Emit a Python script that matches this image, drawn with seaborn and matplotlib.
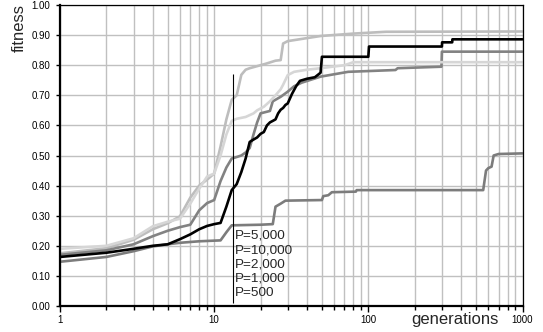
import pandas as pd
import matplotlib
matplotlib.use("Agg")
import matplotlib.pyplot as plt
import matplotlib.ticker as mticker
import seaborn as sns

# Data (generation, best fitness)
gen_5000 = [1, 2, 3, 4, 5, 6, 7, 8, 9, 10, 11, 12, 13, 14, 15, 16, 17, 18, 19, 20,
            21, 22, 23, 24, 25, 26, 27, 28, 29, 30, 32, 34, 36, 40, 45, 49, 50,
            100, 101, 300, 301, 350, 351, 1000]
fit_5000 = [0.163, 0.177, 0.190, 0.200, 0.205, 0.222, 0.238, 0.255, 0.266, 0.272,
            0.276, 0.330, 0.385, 0.405, 0.445, 0.490, 0.545, 0.553, 0.560, 0.572,
            0.578, 0.600, 0.610, 0.615, 0.620, 0.640, 0.652, 0.658, 0.668, 0.673,
            0.705, 0.730, 0.748, 0.755, 0.760, 0.775, 0.828,
            0.828, 0.862, 0.862, 0.876, 0.876, 0.886, 0.886]

gen_10000 = [1, 2, 3, 4, 5, 6, 7, 8, 9, 10, 11, 12, 13, 14, 15, 16, 17, 20, 22,
             25, 27, 28, 30, 40, 49, 80, 130, 1000]
fit_10000 = [0.175, 0.192, 0.220, 0.255, 0.275, 0.298, 0.360, 0.400, 0.420, 0.440,
             0.530, 0.620, 0.685, 0.700, 0.768, 0.785, 0.790, 0.800, 0.806,
             0.815, 0.817, 0.872, 0.880, 0.890, 0.897, 0.905, 0.911, 0.912]

gen_2000 = [1, 2, 3, 4, 5, 6, 7, 8, 9, 10, 11, 12, 13, 14, 15, 16, 17, 18, 19, 20,
            23, 24, 27, 30, 33, 37, 49, 74, 150, 155, 298, 300, 1000]
fit_2000 = [0.170, 0.185, 0.205, 0.232, 0.250, 0.262, 0.270, 0.318, 0.342, 0.352,
            0.415, 0.460, 0.490, 0.495, 0.500, 0.510, 0.525, 0.570, 0.610, 0.640,
            0.648, 0.680, 0.695, 0.712, 0.730, 0.742, 0.762, 0.778, 0.784, 0.790,
            0.795, 0.845, 0.845]

gen_1000 = [1, 2, 3, 4, 5, 6, 7, 8, 9, 10, 11, 12, 13, 14, 16, 18, 19, 21, 23,
            25, 27, 28, 30, 33, 40, 49, 70, 80, 1000]
fit_1000 = [0.190, 0.200, 0.225, 0.265, 0.280, 0.290, 0.340, 0.390, 0.430, 0.440,
            0.500, 0.570, 0.615, 0.622, 0.628, 0.640, 0.650, 0.662, 0.680,
            0.700, 0.720, 0.735, 0.767, 0.778, 0.785, 0.790, 0.800, 0.810, 0.810]

gen_500 = [1, 2, 3, 4, 5, 6, 8, 11, 12, 13, 20, 24, 25, 27, 29, 50, 51, 55, 58,
           83, 84, 556, 580, 600, 630, 650, 700, 1000]
fit_500 = [0.147, 0.163, 0.182, 0.198, 0.205, 0.210, 0.215, 0.218, 0.245, 0.268,
           0.270, 0.272, 0.330, 0.340, 0.350, 0.352, 0.365, 0.368, 0.378,
           0.380, 0.385, 0.385, 0.450, 0.458, 0.463, 0.500, 0.505, 0.507]

series_labels = ["P=5,000", "P=10,000", "P=2,000", "P=1,000", "P=500"]
series_gens = [gen_5000, gen_10000, gen_2000, gen_1000, gen_500]
series_fits = [fit_5000, fit_10000, fit_2000, fit_1000, fit_500]
palette = {"P=5,000": "#000000", "P=10,000": "#bdbdbd", "P=2,000": "#828282",
           "P=1,000": "#d6d6d6", "P=500": "#7c7c7c"}

y_ticks = [0.0, 0.1, 0.2, 0.3, 0.4, 0.5, 0.6, 0.7, 0.8, 0.9, 1.0]
x_ticks = [1, 10, 100, 1000]
x_tick_labels = ["1", "10", "100", "1000"]

# thin marker line next to the legend
marker_gen = 13.2
marker_top = 0.77

frames = []
for lab, g, f in zip(series_labels, series_gens, series_fits):
    frames.append(pd.DataFrame({"generation": g, "fitness": f, "run": lab}))
df = pd.concat(frames, ignore_index=True)

sns.set_theme(style="white")
plt.rcParams["font.family"] = ["Liberation Sans", "DejaVu Sans"]

fig = plt.figure(figsize=(5.43, 3.32), dpi=100)
ax = fig.add_axes([60 / 543, 26 / 332, 462.5 / 543, 301 / 332])

# grid first so the lines sit on top
ax.set_xscale("log")
ax.set_xlim(1, 1000)
ax.set_ylim(0, 1)
ax.xaxis.set_minor_locator(mticker.LogLocator(base=10, subs=range(2, 10)))
ax.grid(which="both", axis="x", color="#c0c0c0", lw=1.0)
ax.grid(which="major", axis="y", color="#c0c0c0", lw=1.0)
ax.set_axisbelow(True)

sns.lineplot(data=df, x="generation", y="fitness", hue="run",
             hue_order=series_labels, palette=palette, estimator=None,
             linewidth=1.9, ax=ax)
for line in ax.get_lines():
    if line.get_color() in ("#000000", "k", (0.0, 0.0, 0.0, 1)):
        line.set_zorder(3)

ax.vlines(marker_gen, 0.01, marker_top, color="black", lw=0.8, zorder=4)

ax.set_xscale("log")
ax.set_xlim(1, 1000)
ax.set_ylim(0, 1)
ax.set_xticks(x_ticks)
ax.set_xticklabels(x_tick_labels)
ax.xaxis.set_minor_locator(mticker.LogLocator(base=10, subs=range(2, 10)))
ax.xaxis.set_minor_formatter(mticker.NullFormatter())
ax.set_yticks(y_ticks)
ax.yaxis.set_major_formatter(mticker.FormatStrFormatter("%.2f"))

ax.tick_params(axis="both", which="both", direction="out", colors="black",
               labelsize=7, width=1.0)
ax.tick_params(axis="x", which="major", length=4, pad=2.5)
ax.tick_params(axis="x", which="minor", length=3)
ax.tick_params(axis="y", which="major", length=3, pad=4)
ax.xaxis.set_ticks_position("bottom")
ax.yaxis.set_ticks_position("left")

for side in ["left", "bottom"]:
    ax.spines[side].set_color("black")
    ax.spines[side].set_linewidth(1.6)
for side in ["top", "right"]:
    ax.spines[side].set_color("black")
    ax.spines[side].set_linewidth(0.9)

ax.set_xlabel("generations", fontsize=12)
ax.xaxis.label.set_va("center")
ax.xaxis.set_label_coords(0.853, -0.044)
ax.set_ylabel("fitness", fontsize=12)
ax.yaxis.label.set_va("center")
ax.yaxis.set_label_coords(-0.089, 0.925)

leg = ax.legend(loc="upper left", bbox_to_anchor=(0.378, 0.254), frameon=False,
                handlelength=0, handletextpad=0, borderpad=0, borderaxespad=0,
                labelspacing=0.14, fontsize=9.7)
for h in leg.legend_handles:
    h.set_visible(False)

fig.savefig("out.png", dpi=100)
